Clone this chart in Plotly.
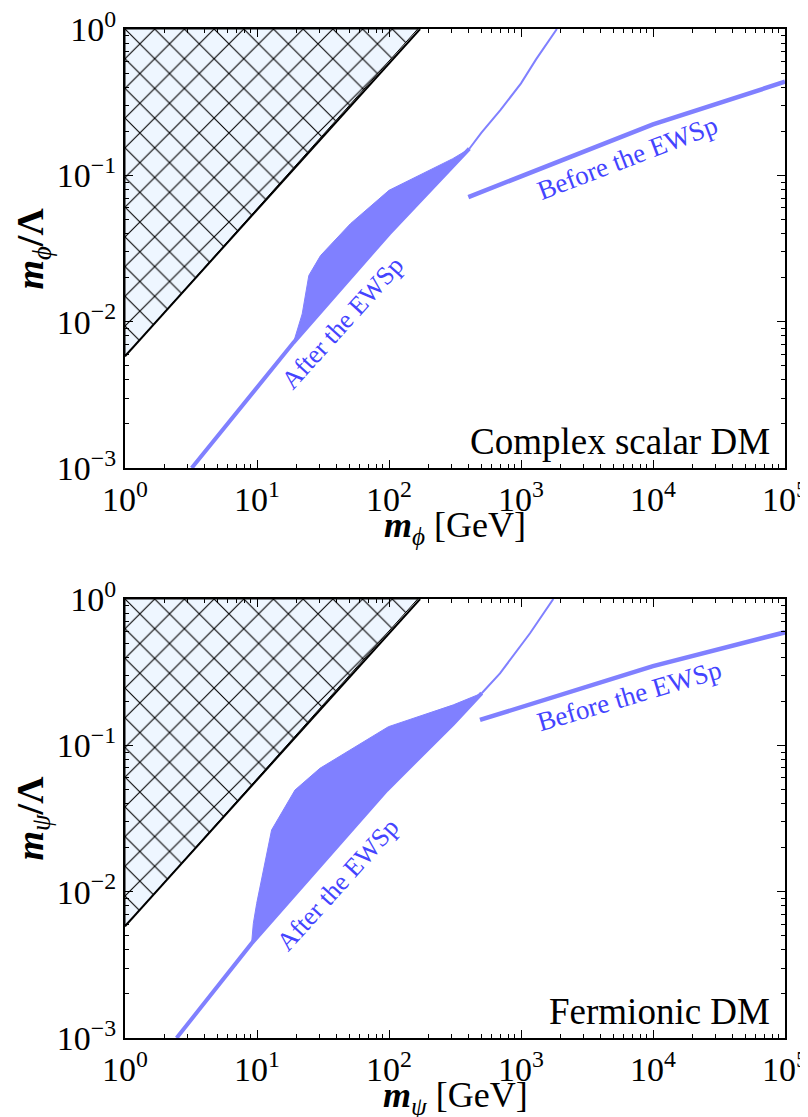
import numpy as np
import plotly.graph_objects as go

# ---------------- data ----------------
# Excluded (hatched) region: boundary line and polygon, same in both panels
excl_line_x = [1.0, 172.0]
excl_line_y = [5.8e-3, 1.0]
excl_poly_x = [1.0, 165.0, 1.0, 1.0]
excl_poly_y = [5.8e-3, 1.0, 1.0, 5.8e-3]

# Top panel: complex scalar DM
s_lo_x = [3.2, 18.9, 100.0, 406.0]
s_lo_y = [1.0e-3, 7.2e-3, 0.040, 0.152]
s_hi_x = [406.0, 500.0, 700.0, 1000.0, 1300.0, 1870.0]
s_hi_y = [0.152, 0.195, 0.28, 0.425, 0.62, 1.0]
s_up_x = [18.9, 22.0, 24.7, 30.3, 51.0, 100.0, 304.0, 406.0]
s_up_y = [7.2e-3, 0.0113, 0.0207, 0.0283, 0.0467, 0.079, 0.13, 0.152]
s_before_x = [399.0, 1.0e4, 1.0e5]
s_before_y = [0.071, 0.223, 0.436]

# Bottom panel: fermionic DM
f_lo_x = [2.46, 9.1, 96.0, 307.0, 504.0]
f_lo_y = [1.0e-3, 4.43e-3, 0.0495, 0.141, 0.227]
f_hi_x = [504.0, 693.0, 1170.0, 1757.0]
f_hi_y = [0.227, 0.31, 0.583, 1.0]
f_up_x = [9.1, 9.38, 9.94, 12.9, 19.4, 30.0, 98.9, 307.0, 504.0]
f_up_y = [4.43e-3, 6.07e-3, 8.3e-3, 0.0264, 0.0495, 0.0697, 0.134, 0.189, 0.227]
f_before_x = [489.0, 1.0e4, 1.0e5]
f_before_y = [0.149, 0.348, 0.592]

x_tick_vals = [1, 10, 100, 1000, 1e4, 1e5]
x_tick_text = ["10<sup>0</sup>", "10<sup>1</sup>", "10<sup>2</sup>",
               "10<sup>3</sup>", "10<sup>4</sup>", "10<sup>5</sup>"]
y_tick_vals = [1e-3, 1e-2, 1e-1, 1]
y_tick_text = ["10<sup>−3</sup>", "10<sup>−2</sup>", "10<sup>−1</sup>", "10<sup>0</sup>"]

# ---------------- styling ----------------
BLUE = "#8080ff"
TXT_BLUE = "#4444ff"
FONT = "Liberation Serif"

x_minor = [d * k for d in [1, 10, 100, 1000, 1e4] for k in range(2, 10)]
y_minor = [d * k for d in [1e-3, 1e-2, 1e-1] for k in range(2, 10)]

fig = go.Figure()


def add_panel(xa, ya, lo_x, lo_y, hi_x, hi_y, up_x, up_y, bx, by):
    # hatched excluded region
    fig.add_trace(go.Scatter(
        x=excl_poly_x, y=excl_poly_y, mode="lines", fill="toself",
        line=dict(color="black", width=1),
        fillpattern=dict(shape="x", size=21, solidity=0.1,
                         fgcolor="black", bgcolor="#eef6ff"),
        xaxis=xa, yaxis=ya, showlegend=False, hoverinfo="skip"))
    fig.add_trace(go.Scatter(
        x=excl_line_x, y=excl_line_y, mode="lines",
        line=dict(color="black", width=2),
        xaxis=xa, yaxis=ya, showlegend=False, hoverinfo="skip"))
    # band: lower edge then upper edge fill
    fig.add_trace(go.Scatter(
        x=lo_x, y=lo_y, mode="lines", line=dict(color=BLUE, width=4),
        xaxis=xa, yaxis=ya, showlegend=False))
    fig.add_trace(go.Scatter(
        x=up_x, y=up_y, mode="lines", line=dict(color=BLUE, width=1),
        fill="tonexty", fillcolor=BLUE,
        xaxis=xa, yaxis=ya, showlegend=False))
    fig.add_trace(go.Scatter(
        x=hi_x, y=hi_y, mode="lines", line=dict(color=BLUE, width=2),
        xaxis=xa, yaxis=ya, showlegend=False))
    fig.add_trace(go.Scatter(
        x=bx, y=by, mode="lines", line=dict(color=BLUE, width=4.5),
        xaxis=xa, yaxis=ya, showlegend=False))


add_panel("x", "y", s_lo_x, s_lo_y, s_hi_x, s_hi_y, s_up_x, s_up_y,
          s_before_x, s_before_y)
add_panel("x2", "y2", f_lo_x, f_lo_y, f_hi_x, f_hi_y, f_up_x, f_up_y,
          f_before_x, f_before_y)

axis_common = dict(
    type="log", showline=True, linewidth=2, linecolor="black",
    mirror="allticks", ticks="inside", ticklen=8, tickwidth=1.2,
    tickcolor="black", showgrid=False, zeroline=False, automargin=False,
    ticklabeloverflow="allow",
    tickfont=dict(family=FONT, size=34, color="black"),
)


def xaxis(anchor):
    return dict(axis_common, range=[0, 5], anchor=anchor, domain=[0, 1],
                tickmode="array", tickvals=x_tick_vals, ticktext=x_tick_text,
                minor=dict(tickmode="array", tickvals=x_minor, ticks="inside",
                           ticklen=4, tickwidth=1, tickcolor="black",
                           showgrid=False))


def yaxis(anchor, domain):
    return dict(axis_common, range=[-3, 0], anchor=anchor, domain=domain,
                tickmode="array", tickvals=y_tick_vals, ticktext=y_tick_text,
                minor=dict(tickmode="array", tickvals=y_minor, ticks="inside",
                           ticklen=4, tickwidth=1, tickcolor="black",
                           showgrid=False))


# the page adds an 8px body margin, so the figure is 8px smaller than the window
fig.update_layout(
    template="none",
    width=800, height=1109,
    margin=dict(l=117, r=23, t=21, b=79),
    paper_bgcolor="white", plot_bgcolor="white",
    font=dict(family=FONT, color="black"),
    xaxis=xaxis("y"),
    yaxis=yaxis("x", [0.5649, 1.0]),
    xaxis2=xaxis("y2"),
    yaxis2=yaxis("x2", [0.0, 0.4351]),
)

xtitle_font = dict(family=FONT, size=36, color="black")
ytitle_font = dict(family=FONT, size=38, color="black")
for xr, yr, xt, yt in [
        ("x domain", "y domain",
         "<b><i>m</i></b><sub><i>ϕ</i></sub> [GeV]",
         "<b><i>m</i></b><sub><i>ϕ</i></sub><b>/Λ</b>"),
        ("x2 domain", "y2 domain",
         "<b><i>m</i></b><sub><i>ψ</i></sub> [GeV]",
         "<b><i>m</i></b><sub><i>ψ</i></sub><b>/Λ</b>")]:
    fig.add_annotation(xref=xr, yref=yr, x=0.5, y=0, yshift=-59,
                       xanchor="center", yanchor="middle", showarrow=False,
                       text=xt, font=xtitle_font)
    fig.add_annotation(xref=xr, yref=yr, x=0, y=0.5, xshift=-92,
                       xanchor="center", yanchor="middle", showarrow=False,
                       textangle=-90, text=yt, font=ytitle_font)

after_font = dict(family=FONT, size=26, color=TXT_BLUE)
before_font = dict(family=FONT, size=27, color=TXT_BLUE)
labels = [
    ("x", "y", 44.8, 9.8e-3, -48, "After the EWSp", after_font),
    ("x", "y", 6324.0, 0.1324, -21, "Before the EWSp", before_font),
    ("x2", "y2", 41.0, 0.0112, -48, "After the EWSp", after_font),
    ("x2", "y2", 6577.0, 0.218, -16.5, "Before the EWSp", before_font),
]
for xr, yr, lx, ly, ang, txt, fnt in labels:
    fig.add_annotation(xref=xr, yref=yr, x=np.log10(lx), y=np.log10(ly),
                       text=txt, textangle=ang, showarrow=False,
                       xanchor="center", yanchor="middle", font=fnt)

for xr, yr, txt in [("x domain", "y domain", "Complex scalar DM"),
                    ("x2 domain", "y2 domain", "Fermionic DM")]:
    fig.add_annotation(xref=xr, yref=yr, x=0.98, y=0.0615, text=txt,
                       showarrow=False, xanchor="right", yanchor="middle",
                       font=dict(family=FONT, size=37, color="black"))

fig.write_html("out.html")
